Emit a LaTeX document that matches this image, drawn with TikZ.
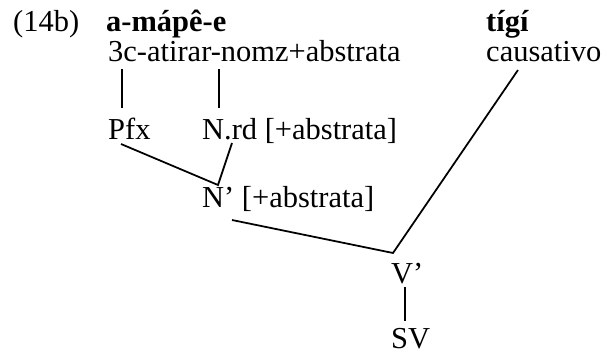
\documentclass[tikz,border=0pt]{standalone}
\usepackage{fontspec}
\setmainfont{Liberation Serif}
\usepackage{tikz}
\usetikzlibrary{positioning,calc}

\begin{document}
\begin{tikzpicture}[x=0.03cm,y=-0.03cm,
  lbl/.style={anchor=base west,inner sep=0pt,font=\fontsize{26}{30}\selectfont},
  bold/.style={lbl,font=\fontsize{26}{30}\selectfont\bfseries},
  branch/.style={line width=1.5pt}]
\useasboundingbox (0,0) rectangle (607,355);
% example number and words
\node[lbl] (exnum) at (13,31) {(14b)};
\node[bold] (wordA) at (106,31) {a-mápê-e};
\node[bold] (wordB) at (486,31) {tígí};
\node[lbl] (glossA) at (108,61) {3c-atirar-nomz+abstrata};
\node[lbl] (glossB) at (486,61) {causativo};
% tree nodes
\node[lbl] (pfx) at (108,139) {Pfx};
\node[lbl] (nrd) at (202,139) {N.rd [+abstrata]};
\node[lbl] (nbar) at (202,207) {N’ [+abstrata]};
\node[lbl] (vbar) at (391,283) {V’};
\node[lbl] (sv) at (391,348) {SV};
% branch ends
\coordinate (glossA-l) at (122,69);
\coordinate (glossA-r) at (219,69);
\coordinate (pfx-t) at (122,108);
\coordinate (nrd-t) at (219,108);
\coordinate (pfx-b) at (121,144);
\coordinate (nrd-b) at (232,143);
\coordinate (nbar-t) at (218,185);
\coordinate (nbar-b) at (232,220);
\coordinate (glossB-b) at (518,70);
\coordinate (vbar-t) at (393,253);
\coordinate (vbar-b) at (405,287);
\coordinate (sv-t) at (405,321);
\draw[branch] (glossA-l) -- (pfx-t);
\draw[branch] (glossA-r) -- (nrd-t);
\draw[branch] (pfx-b) -- (nbar-t) -- (nrd-b);
\draw[branch] (nbar-b) -- (vbar-t) -- (glossB-b);
\draw[branch] (vbar-b) -- (sv-t);
\end{tikzpicture}
\end{document}
